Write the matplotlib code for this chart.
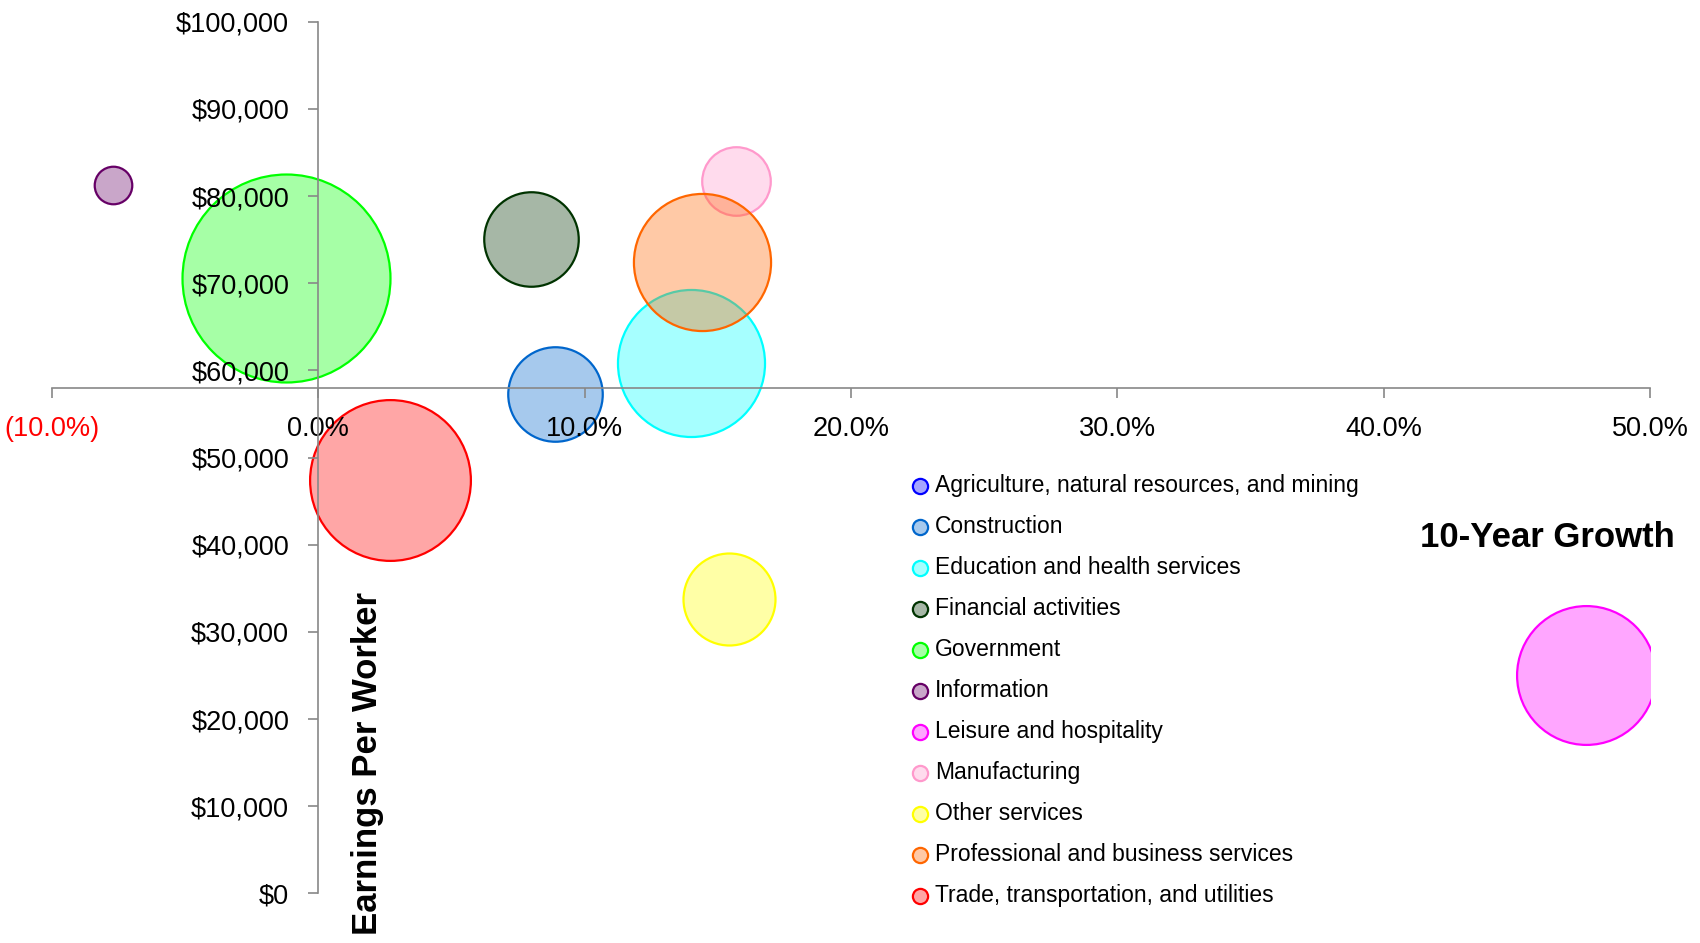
import numpy as np
import matplotlib
matplotlib.use("Agg")
import matplotlib.pyplot as plt
from matplotlib.colors import to_rgba

plt.rcParams['font.family'] = ['Liberation Sans', 'DejaVu Sans']

# industries, 10-year growth (%), earnings per worker ($), bubble size (employment, rel.)
industries = [
    "Agriculture, natural resources, and mining",
    "Construction",
    "Education and health services",
    "Financial activities",
    "Government",
    "Information",
    "Leisure and hospitality",
    "Manufacturing",
    "Other services",
    "Professional and business services",
    "Trade, transportation, and utilities",
]
growth = [np.nan, 8.9, 14.0, 8.0, -1.2, -7.7, 47.6, 15.7, 15.4, 14.4, 2.7]
earnings = [np.nan, 57300, 60800, 75100, 70600, 81300, 25000, 81700, 33800, 72400, 47400]
employment = [np.nan, 19, 46, 19, 92, 3, 41, 10, 18, 40, 55]
edge_colors = ["#0000FF", "#0066CC", "#00FFFF", "#003300", "#00FF00", "#660066",
               "#FF00FF", "#FF99CC", "#FFFF00", "#FF6600", "#FF0000"]

x_ticks = [-10, 0, 10, 20, 30, 40, 50]
y_ticks = list(range(0, 100001, 10000))

fig = plt.figure(figsize=(17, 9.43), dpi=100)
ax = fig.add_axes([0.0306, 0.0526, 0.94, 0.9244])

for name, gx, ey, emp, c in zip(industries, growth, earnings, employment, edge_colors):
    size = 243.7 * emp if not np.isnan(emp) else 100
    ax.scatter([gx], [ey], s=[size],
               facecolors=[to_rgba(c, 0.35)], edgecolors=[c], linewidths=1.6,
               label=name, zorder=1)

ax.set_xlim(-10, 50)
ax.set_ylim(0, 100000)

for side in ["top", "right"]:
    ax.spines[side].set_visible(False)
ax.spines["left"].set_position(("data", 0))
ax.spines["bottom"].set_position(("data", 58000))
for side in ["left", "bottom"]:
    ax.spines[side].set_color("#888888")
    ax.spines[side].set_linewidth(1.2)

ax.set_xticks(x_ticks)
ax.set_xticklabels([f"({abs(v):.1f}%)" if v < 0 else f"{v:.1f}%" for v in x_ticks])
for lbl, v in zip(ax.get_xticklabels(), x_ticks):
    if v < 0:
        lbl.set_color("red")
ax.set_yticks(y_ticks)
ax.set_yticklabels([f"${v:,.0f}" for v in y_ticks])
ax.tick_params(axis="both", direction="out", length=7, width=1.2, color="#888888",
               labelsize=19.5)
ax.tick_params(axis="x", pad=13)
ax.tick_params(axis="y", pad=14)

fig.text(0.985, 0.43, "10-Year Growth", ha="right", va="center",
         fontsize=25, fontweight="bold")
fig.text(0.216, 0.19, "Earnings Per Worker", ha="center", va="center",
         rotation=90, fontsize=25, fontweight="bold")

leg = ax.legend(loc="upper left", bbox_to_anchor=(0.5283, 0.507),
                bbox_transform=fig.transFigure, frameon=False, fontsize=16.5,
                handletextpad=0.12, handlelength=1.1, labelspacing=0.784,
                borderaxespad=0)
for h, c in zip(leg.legend_handles, edge_colors):
    h.set_sizes([120])
    h.set_facecolor(to_rgba(c, 0.35))
    h.set_edgecolor(c)
    h.set_linewidth(1.6)

fig.savefig("out.png", dpi=100)
